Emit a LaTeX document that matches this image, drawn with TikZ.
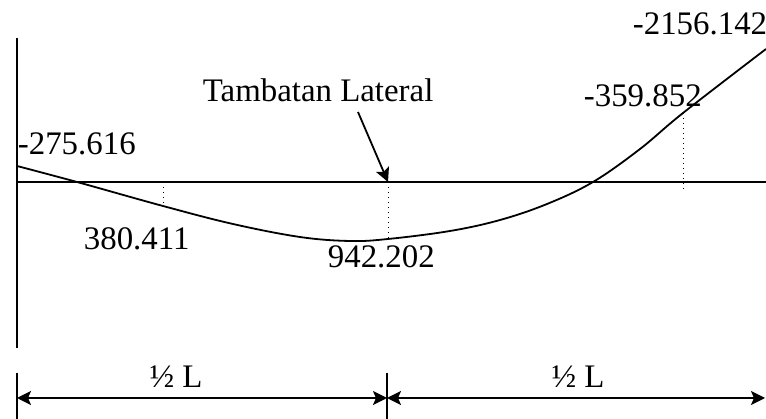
\documentclass[tikz,border=0pt]{standalone}
\usepackage{fontspec}
\setmainfont{Liberation Serif}
\usepackage{tikz}
\usetikzlibrary{arrows.meta,positioning,calc}

\begin{document}
\begin{tikzpicture}[
    >={Stealth[length=7bp,width=7bp,inset=1.5bp]},
    x=0.5bp, y=-0.5bp,
    line width=0.9bp,
    val/.style={inner sep=0pt,font=\fontsize{16.5}{19}\selectfont},
    proj/.style={dotted,line width=0.5bp},
    dimline/.style={<->,line width=0.9bp},
    tick/.style={line width=0.7bp},
  ]
  \useasboundingbox (0,0) rectangle (766,419);

  % --- axes ---
  \coordinate (top)  at (17,38);
  \coordinate (bot)  at (17,348);
  \coordinate (b0)   at (17,182);
  \coordinate (b1)   at (766,182);
  \draw (top) -- (bot);
  \draw (b0) -- (b1);

  % --- moment curve ---
  \draw plot[smooth,tension=0.6] coordinates {
    (17,166) (77,182) (163,206) (233,224) (300,237) (350,241) (388,239)
    (450,231) (500,220) (547,204) (593,182) (640,149) (683,113) (766,49)};

  % --- projections onto the axis ---
  \coordinate (c1) at (163,206);  \coordinate (a1) at (163,182);
  \coordinate (c2) at (388,237);  \coordinate (a2) at (388,182);
  \coordinate (c3) at (683,113);  \coordinate (a3) at (683,190);
  \draw[proj] (a1) -- (c1);
  \draw[proj] (a2) -- (c2);
  \draw[proj] (c3) -- (a3);

  % --- values ---
  \node[val,anchor=base west] (mA)  at (17,155)  {-275.616};
  \node[val,anchor=base west] (m1)  at (83,250)  {380.411};
  \node[val,anchor=base west] (m2)  at (327,268) {942.202};
  \node[val,anchor=base west] (m3)  at (583,107) {-359.852};
  \node[val,anchor=base west] (mB)  at (632,35)  {-2156.142};

  % --- lateral bracing ---
  \node[val,anchor=base west] (brace) at (202,102) {Tambatan Lateral};
  \coordinate (tail) at (358,112);
  \draw[->] (tail) -- (a2);

  % --- span dimensions ---
  \coordinate (d0) at (17,398);
  \coordinate (d1) at (387,398);
  \coordinate (d2) at (765,398);
  \draw[tick] (17,373) -- (17,419);
  \draw[tick] (387,373) -- (387,419);
  \draw[dimline] (d0) -- (d1);
  \draw[dimline] (d1) -- (d2);
  \node[val,anchor=base] (half1) at (176,388) {½ L};
  \node[val,anchor=base] (half2) at (578,388) {½ L};

\end{tikzpicture}
\end{document}
